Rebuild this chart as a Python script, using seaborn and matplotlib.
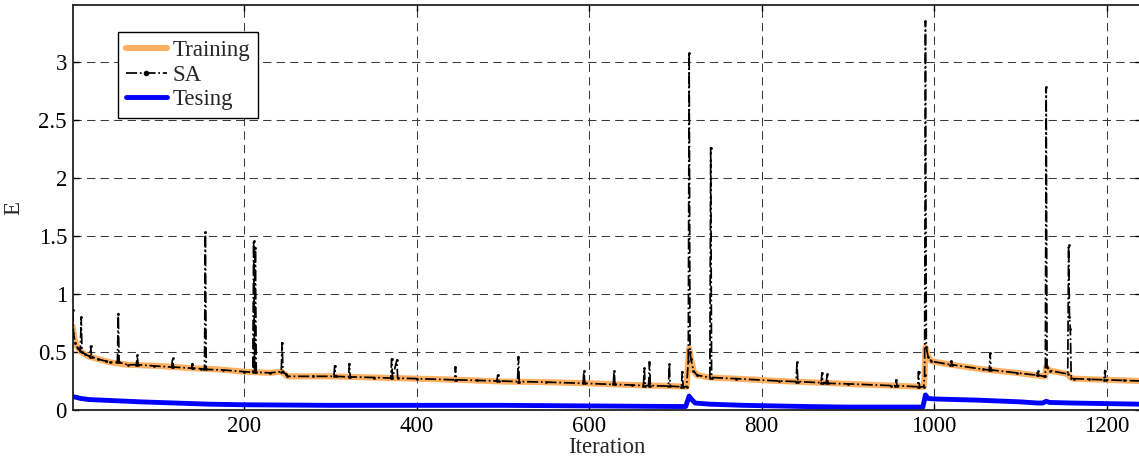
import matplotlib
matplotlib.use("Agg")
import matplotlib.pyplot as plt
import seaborn as sns
from matplotlib.lines import Line2D

# Training error
train_iter = [1, 3, 6, 10, 15, 20, 30, 45, 65, 100, 140, 170, 200, 230, 243, 250, 280,
              300, 350, 400, 450, 500, 550, 600, 650, 700, 713, 715, 716, 718, 721, 725,
              740, 770, 820, 870, 900, 950, 988, 989, 990, 993, 997, 1020, 1057, 1096,
              1127, 1129, 1130, 1134, 1155, 1158, 1162, 1200, 1240]
train_E = [0.72, 0.62, 0.55, 0.51, 0.48, 0.46, 0.44, 0.41, 0.39, 0.38, 0.36, 0.35, 0.33,
           0.32, 0.33, 0.29, 0.29, 0.29, 0.28, 0.27, 0.26, 0.245, 0.24, 0.23, 0.215, 0.205,
           0.20, 0.42, 0.53, 0.44, 0.34, 0.30, 0.28, 0.27, 0.25, 0.235, 0.225, 0.21, 0.20,
           0.30, 0.54, 0.46, 0.42, 0.39, 0.35, 0.32, 0.29, 0.29, 0.37, 0.34, 0.31, 0.28,
           0.27, 0.26, 0.25]

# Simulated annealing error
sa_iter = [1, 2, 4, 7, 10, 11, 12, 16, 21, 22, 23, 30, 40, 45, 53, 54, 55, 65, 75, 76, 77,
           95, 116, 117, 118, 139, 140, 141, 150, 154, 155, 156, 175, 200, 210, 211, 212,
           213, 214, 230, 243, 244, 245, 248, 250, 280, 304, 305, 306, 321, 322, 323, 350,
           370, 371, 372, 377, 378, 400, 444, 445, 446, 470, 493, 494, 495, 517, 518, 519,
           550, 593, 594, 595, 628, 629, 630, 650, 663, 664, 665, 669, 670, 671, 692, 693,
           694, 707, 708, 709, 713, 715, 716, 717, 718, 721, 725, 740, 741, 742, 770, 820,
           840, 841, 842, 869, 870, 871, 875, 876, 877, 900, 950, 955, 956, 957, 981, 982,
           983, 988, 989, 990, 991, 993, 997, 1019, 1020, 1021, 1057, 1064, 1065, 1066,
           1096, 1119, 1120, 1121, 1127, 1129, 1130, 1131, 1134, 1155, 1156, 1157, 1158,
           1159, 1162, 1180, 1197, 1198, 1199, 1220, 1240]
sa_E = [0.86, 0.66, 0.58, 0.53, 0.51, 0.80, 0.50, 0.48, 0.46, 0.55, 0.46, 0.44, 0.42,
        0.41, 0.41, 0.83, 0.41, 0.39, 0.39, 0.47, 0.39, 0.38, 0.37, 0.45, 0.37, 0.36, 0.40,
        0.36, 0.355, 0.35, 1.53, 0.35, 0.345, 0.33, 0.325, 1.46, 0.33, 1.40, 0.325, 0.32,
        0.33, 0.58, 0.33, 0.31, 0.29, 0.29, 0.29, 0.38, 0.29, 0.285, 0.40, 0.285, 0.28,
        0.275, 0.44, 0.275, 0.43, 0.275, 0.27, 0.26, 0.37, 0.26, 0.255, 0.25, 0.30, 0.25,
        0.245, 0.46, 0.245, 0.24, 0.23, 0.34, 0.23, 0.22, 0.34, 0.22, 0.215, 0.21, 0.36,
        0.21, 0.21, 0.41, 0.21, 0.205, 0.40, 0.205, 0.20, 0.33, 0.20, 0.20, 0.42, 3.08,
        0.50, 0.44, 0.34, 0.30, 0.28, 2.26, 0.28, 0.27, 0.25, 0.245, 0.41, 0.245, 0.235,
        0.32, 0.235, 0.235, 0.31, 0.23, 0.225, 0.21, 0.21, 0.26, 0.21, 0.20, 0.33, 0.20,
        0.20, 0.30, 3.35, 0.54, 0.46, 0.42, 0.39, 0.42, 0.39, 0.35, 0.345, 0.49, 0.345,
        0.32, 0.30, 0.34, 0.30, 0.29, 0.29, 2.78, 0.37, 0.34, 0.31, 1.42, 0.80, 0.70, 0.28,
        0.27, 0.265, 0.26, 0.34, 0.26, 0.255, 0.25]

# Testing error
test_iter = [1, 5, 10, 20, 35, 50, 80, 120, 160, 200, 300, 400, 500, 600, 700, 712, 716,
             719, 723, 740, 780, 850, 900, 987, 990, 993, 1000, 1050, 1100, 1120, 1126,
             1130, 1134, 1160, 1200, 1240]
test_E = [0.115, 0.11, 0.10, 0.09, 0.085, 0.08, 0.07, 0.06, 0.05, 0.045, 0.04, 0.04, 0.04,
          0.035, 0.03, 0.03, 0.12, 0.09, 0.06, 0.05, 0.04, 0.03, 0.025, 0.025, 0.13, 0.10,
          0.095, 0.085, 0.07, 0.06, 0.06, 0.075, 0.065, 0.06, 0.055, 0.05]

x_ticks = [200, 400, 600, 800, 1000, 1200]
y_ticks = [0, 0.5, 1, 1.5, 2, 2.5, 3]
y_tick_labels = ["0", "0.5", "1", "1.5", "2", "2.5", "3"]

TRAIN_COLOR = "#FFB062"
TEST_COLOR = "#0000FF"

sns.set_style("ticks")
plt.rcParams["font.family"] = ["Liberation Serif", "DejaVu Serif"]
plt.rcParams["font.size"] = 16.5

fig = plt.figure(figsize=(11.39, 4.63), dpi=100)
ax = fig.add_axes([0.0637, 0.1145, 0.9381, 0.8745])

sns.lineplot(x=train_iter, y=train_E, ax=ax, color=TRAIN_COLOR, linewidth=4.4,
             estimator=None, sort=False, zorder=2)
sns.lineplot(x=sa_iter, y=sa_E, ax=ax, color="black", linewidth=1.25,
             linestyle="-.", marker=".", markersize=4, markeredgewidth=0,
             estimator=None, sort=False, zorder=3)
sns.lineplot(x=test_iter, y=test_E, ax=ax, color=TEST_COLOR, linewidth=3.5,
             estimator=None, sort=False, zorder=2)

ax.set_xlim(1, 1240)
ax.set_ylim(0, 3.49)
ax.set_xticks(x_ticks)
ax.set_xticklabels([str(t) for t in x_ticks])
ax.set_yticks(y_ticks)
ax.set_yticklabels(y_tick_labels)
ax.tick_params(direction="in", length=4, width=1, top=True, right=True, pad=4,
               labelsize=16.5, colors="black")

ax.grid(True, color="#3a3a3a", linestyle=(0, (8, 5)), linewidth=0.75)
for side in ("left", "bottom", "top", "right"):
    ax.spines[side].set_color("#222222")
    ax.spines[side].set_linewidth(1.3)

ax.set_xlabel("Iteration", fontsize=16.5, labelpad=0)
ax.set_ylabel("E", fontsize=16.5, labelpad=10)

handles = [
    Line2D([], [], color=TRAIN_COLOR, linewidth=4.4),
    Line2D([], [], color="black", linewidth=1.25, linestyle="-.", marker=".",
           markersize=6, markevery=[1]),
    Line2D([], [], color=TEST_COLOR, linewidth=3.5),
]
leg = ax.legend(handles, ["Training", "SA", "Tesing"], loc="upper left",
                bbox_to_anchor=(0.043, 0.933), borderaxespad=0, fancybox=False,
                framealpha=1, edgecolor="black", handlelength=1.8,
                handletextpad=0.25, labelspacing=0.17, borderpad=0.32,
                fontsize=16.5)
leg.get_frame().set_linewidth(1.0)

fig.savefig("out.png", dpi=100)
